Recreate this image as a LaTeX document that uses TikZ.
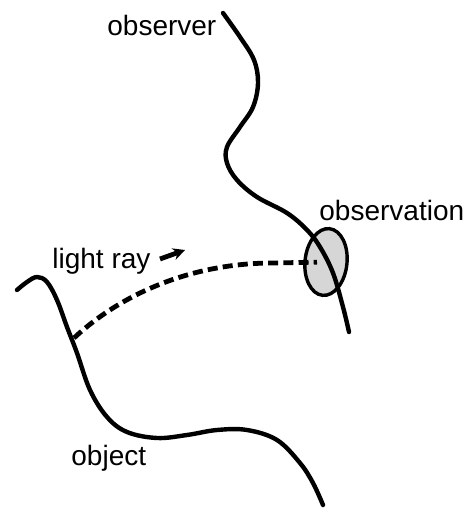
\documentclass[tikz,border=0pt]{standalone}
\usepackage{fontspec}
\setmainfont{Liberation Sans}
\usetikzlibrary{shapes.geometric,arrows.meta}

\tikzset{
  worldline/.style={line width=2.2pt, line cap=round},
  tag/.style={font=\fontsize{14}{16}\selectfont, anchor=base west, inner sep=0pt},
}

\begin{document}
\begin{tikzpicture}[x=0.5pt, y=-0.5pt]
    \useasboundingbox (0,0) rectangle (470,508);

    \node[ellipse, draw, line width=1.7pt, fill=black!16, inner sep=0pt,
          minimum width=21pt, minimum height=33.5pt, rotate=-6] (obs) at (326,262) {};

    % observer and object
    \draw[worldline] plot[smooth, tension=0.6] coordinates {(223,13) (240,37) (254,60) (258,83) (253,107) (240,127) (227,147) (227,163) (237,180) (257,197) (287,213) (307,230) (320,247) (333,273) (343,307) (349,332)};
    \draw[worldline] plot[smooth, tension=0.6] coordinates {(17,290) (27,282) (37,277) (47,282) (57,300) (67,327) (77,353) (90,390) (107,417) (127,432) (157,438) (187,435) (217,430) (247,430) (277,440) (300,463) (313,483) (323,505)};

    % light ray
    \coordinate (emit) at (74,338);
    \draw[line width=2.4pt, dash pattern=on 5pt off 2.6pt, shorten >=4.5pt]
        (emit) .. controls (120,295) and (190,263) .. (273,263) -- (obs.center);
    \draw[line width=2.4pt, -{Stealth[length=6pt, width=6pt]}] (160,259) -- (185,250);

    \node[tag] (observer) at (107,36) {observer};
    \node[tag] (observation) at (319,220) {observation};
    \node[tag] (lightray) at (52,268) {light ray};
    \node[tag] (object) at (71,465) {object};
\end{tikzpicture}
\end{document}
